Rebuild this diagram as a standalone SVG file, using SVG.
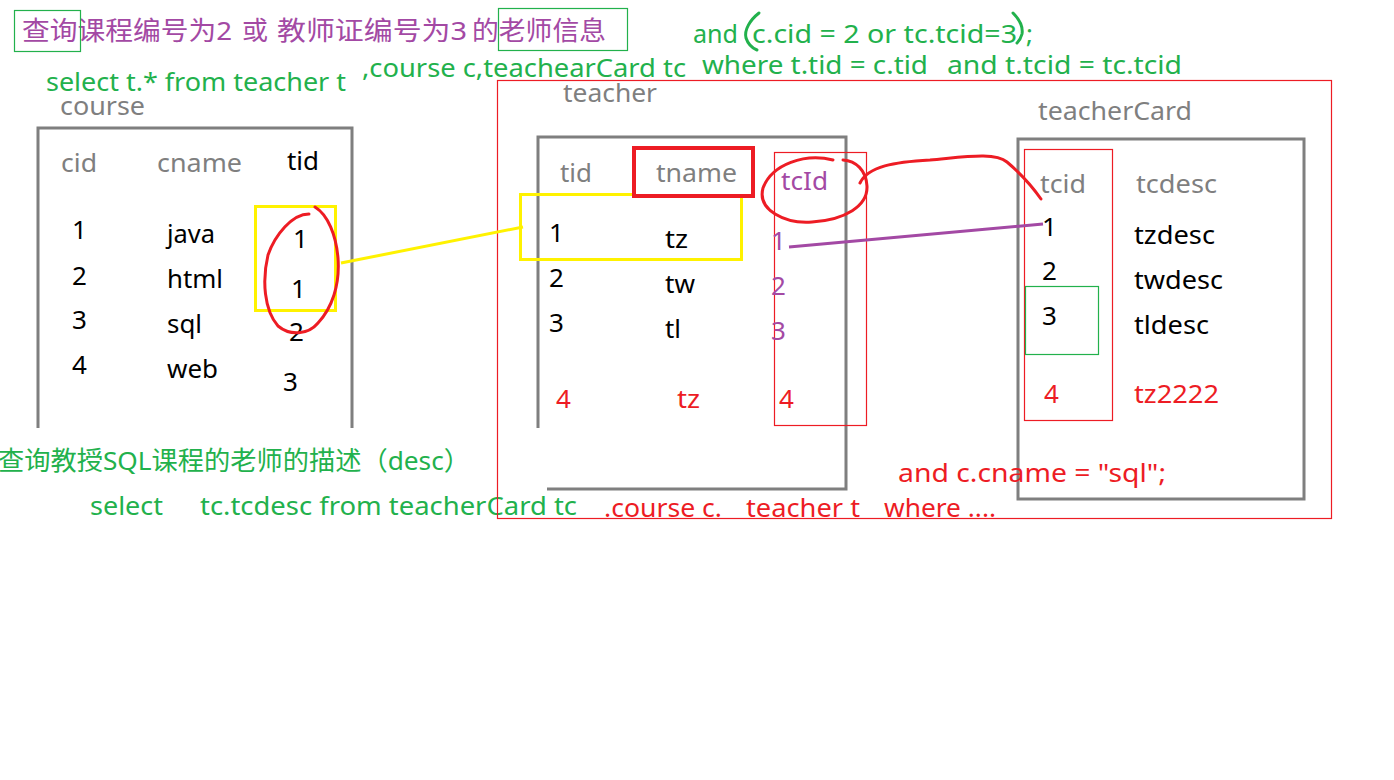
<svg xmlns="http://www.w3.org/2000/svg" width="1394" height="780" viewBox="0 0 1394 780">
<style>
text{font-family:"Noto Sans","Noto Sans CJK SC",sans-serif;font-size:26px}
.g{fill:#22b14c}.p{fill:#a349a4}.r{fill:#ed1c24}.k{fill:#000}.h{fill:#7f7f7f}
.box{fill:none;stroke:#7f7f7f;stroke-width:3}
.thin{fill:none;stroke-width:1.2}
.ink{fill:none;stroke-width:3;stroke-linecap:round;stroke-linejoin:round}
</style>
<rect width="1394" height="780" fill="#fff"/>

<g id="notes">
<text class="p" x="22" y="40" font-size="27" textLength="210" lengthAdjust="spacingAndGlyphs">查询课程编号为2</text>
<text class="p" x="242" y="40" font-size="27">或</text>
<text class="p" x="277" y="40" font-size="27" textLength="190" lengthAdjust="spacingAndGlyphs">教师证编号为3</text>
<text class="p" x="472" y="40" font-size="27" textLength="134" lengthAdjust="spacingAndGlyphs">的老师信息</text>
<rect class="thin" stroke="#22b14c" x="14.5" y="10.5" width="66" height="41"/>
<rect class="thin" stroke="#22b14c" x="498.5" y="8.5" width="129" height="42"/>
<text class="g" x="46" y="91" textLength="300" lengthAdjust="spacingAndGlyphs">select t.* from teacher t</text>
<text class="g" x="362" y="77" textLength="324" lengthAdjust="spacingAndGlyphs">,course c,teachearCard tc</text>
<text class="g" x="693" y="43" textLength="45" lengthAdjust="spacingAndGlyphs">and</text>
<text class="g" x="752" y="43" textLength="265" lengthAdjust="spacingAndGlyphs">c.cid = 2 or tc.tcid=3</text>
<text class="g" x="1026" y="43">;</text>
<path class="ink" stroke="#22b14c" d="M759 13 C750 20 744 30 746 38 C748 44 752 48 757 50"/>
<path class="ink" stroke="#22b14c" d="M1013 13 C1020 20 1023 28 1022 34 C1021 38 1019 41 1017 43"/>
<text class="g" x="702" y="74" textLength="226" lengthAdjust="spacingAndGlyphs">where t.tid = c.tid</text>
<text class="g" x="947" y="74" textLength="235" lengthAdjust="spacingAndGlyphs">and t.tcid = tc.tcid</text>
<text class="g" x="-2" y="470" textLength="472" lengthAdjust="spacingAndGlyphs">查询教授SQL课程的老师的描述（desc）</text>
<text class="g" x="90" y="515" textLength="73" lengthAdjust="spacingAndGlyphs">select</text>
<text class="g" x="200" y="515" textLength="377" lengthAdjust="spacingAndGlyphs">tc.tcdesc from teacherCard tc</text>
<text class="r" x="604" y="517" textLength="118" lengthAdjust="spacingAndGlyphs">.course c.</text>
<text class="r" x="746" y="517" textLength="114" lengthAdjust="spacingAndGlyphs">teacher t</text>
<text class="r" x="884" y="517" textLength="112" lengthAdjust="spacingAndGlyphs">where ....</text>
</g>

<g id="query-area">
<rect class="thin" stroke="#ed1c24" x="497.5" y="80.5" width="834" height="438"/>
</g>

<g id="course">
<text class="h" x="60" y="115" textLength="85" lengthAdjust="spacingAndGlyphs">course</text>
<path class="box" d="M38 428 V128 H352 V428"/>
<text class="h" x="61" y="172" textLength="36" lengthAdjust="spacingAndGlyphs">cid</text>
<text class="h" x="157" y="172" textLength="85" lengthAdjust="spacingAndGlyphs">cname</text>
<text class="k" x="287" y="170" textLength="32" lengthAdjust="spacingAndGlyphs">tid</text>
<text class="k" x="72" y="239">1</text>
<text class="k" x="72" y="285">2</text>
<text class="k" x="72" y="329">3</text>
<text class="k" x="72" y="374">4</text>
<text class="k" x="167" y="243" textLength="48" lengthAdjust="spacingAndGlyphs">java</text>
<text class="k" x="167" y="288" textLength="56" lengthAdjust="spacingAndGlyphs">html</text>
<text class="k" x="167" y="333" textLength="35" lengthAdjust="spacingAndGlyphs">sql</text>
<text class="k" x="167" y="378" textLength="51" lengthAdjust="spacingAndGlyphs">web</text>
<text class="k" x="293" y="248">1</text>
<text class="k" x="291" y="298">1</text>
<text class="k" x="289" y="341">2</text>
<text class="k" x="283" y="391">3</text>
<rect fill="none" stroke="#fff200" stroke-width="3" x="255.5" y="206.5" width="80" height="104"/>
<path class="ink" stroke="#ed1c24" d="M309 214 C292 214 275 235 268 255 C262 280 264 310 278 326 C290 336 308 335 318 323 C332 308 340 285 338 258 C336 235 328 215 315 207"/>
</g>

<g id="teacher">
<text class="h" x="563" y="102" textLength="94" lengthAdjust="spacingAndGlyphs">teacher</text>
<path class="box" d="M538 428 V137 H846 V489 H547"/>
<rect fill="none" stroke="#fff200" stroke-width="3" x="520.5" y="194.5" width="221" height="65"/>
<rect fill="#fff" stroke="#ed1c24" stroke-width="4" x="634" y="148" width="119" height="48"/>
<text class="h" x="560" y="182" textLength="32" lengthAdjust="spacingAndGlyphs">tid</text>
<text class="h" x="656" y="182" textLength="81" lengthAdjust="spacingAndGlyphs">tname</text>
<text class="p" x="781" y="190" textLength="47" lengthAdjust="spacingAndGlyphs">tcId</text>
<rect class="thin" stroke="#ed1c24" x="774.5" y="152.5" width="92" height="273"/>
<path class="ink" stroke="#ed1c24" d="M833 160 C805 153 772 164 763 188 C757 210 785 224 812 222 C845 220 868 206 867 186 C866 170 856 161 843 160"/>
<text class="k" x="549" y="242">1</text>
<text class="k" x="665" y="248" textLength="23" lengthAdjust="spacingAndGlyphs">tz</text>
<text class="k" x="549" y="287">2</text>
<text class="k" x="665" y="293" textLength="30" lengthAdjust="spacingAndGlyphs">tw</text>
<text class="k" x="549" y="332">3</text>
<text class="k" x="665" y="338" textLength="16" lengthAdjust="spacingAndGlyphs">tl</text>
<text class="r" x="556" y="408">4</text>
<text class="r" x="677" y="408" textLength="23" lengthAdjust="spacingAndGlyphs">tz</text>
<text class="p" x="771" y="250">1</text>
<text class="p" x="771" y="295">2</text>
<text class="p" x="771" y="340">3</text>
<text class="r" x="779" y="408">4</text>
</g>

<g id="teacherCard">
<text class="h" x="1038" y="120" textLength="154" lengthAdjust="spacingAndGlyphs">teacherCard</text>
<rect class="box" x="1018" y="139" width="286" height="360"/>
<rect class="thin" stroke="#ed1c24" x="1024.5" y="149.5" width="88" height="271"/>
<rect class="thin" stroke="#22b14c" x="1025.5" y="286.5" width="73" height="68"/>
<text class="h" x="1040" y="193" textLength="46" lengthAdjust="spacingAndGlyphs">tcid</text>
<text class="h" x="1136" y="193" textLength="81" lengthAdjust="spacingAndGlyphs">tcdesc</text>
<text class="k" x="1042" y="236">1</text>
<text class="k" x="1042" y="280">2</text>
<text class="k" x="1042" y="325">3</text>
<text class="r" x="1044" y="403">4</text>
<text class="k" x="1134" y="244" textLength="81" lengthAdjust="spacingAndGlyphs">tzdesc</text>
<text class="k" x="1134" y="289" textLength="89" lengthAdjust="spacingAndGlyphs">twdesc</text>
<text class="k" x="1134" y="334" textLength="75" lengthAdjust="spacingAndGlyphs">tldesc</text>
<text class="r" x="1134" y="403" textLength="85" lengthAdjust="spacingAndGlyphs">tz2222</text>
<text class="r" x="898" y="482" textLength="268" lengthAdjust="spacingAndGlyphs">and c.cname = "sql";</text>
</g>

<g id="connectors">
<line stroke="#fff200" stroke-width="3" x1="341" y1="263" x2="523" y2="227"/>
<line stroke="#a349a4" stroke-width="3" x1="789" y1="247" x2="1043" y2="224"/>
<path class="ink" stroke="#ed1c24" d="M860 183 C868 166 895 162 930 160 C965 157 995 152 1007 162 C1020 173 1034 189 1041 199"/>
</g>
</svg>
